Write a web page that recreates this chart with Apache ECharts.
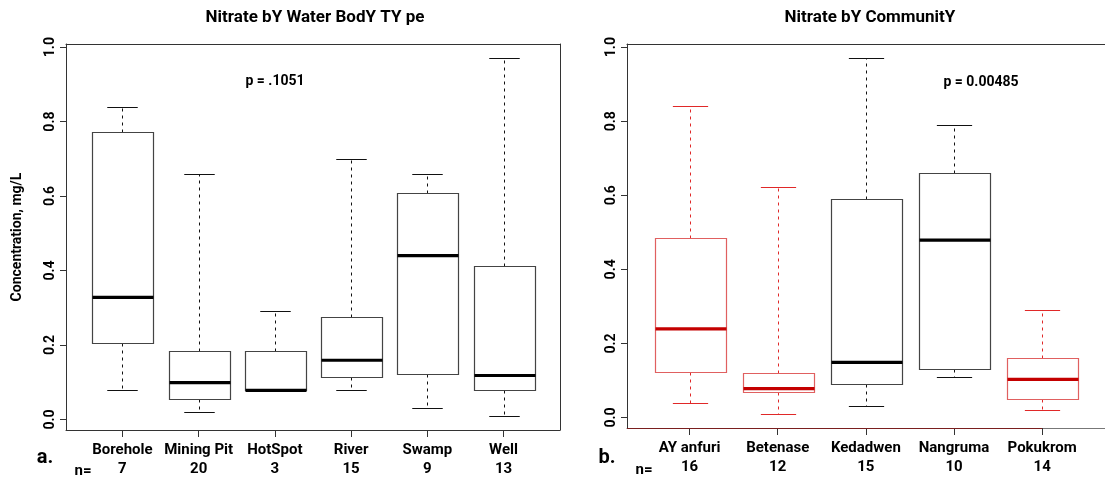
<!DOCTYPE html>
<html>
<head>
<meta charset="utf-8">
<script src="https://cdn.jsdelivr.net/npm/echarts@6/dist/echarts.min.js"></script>
<style>
html,body{margin:0;padding:0;background:#fff;}
#chart{width:1105px;height:478px;}
</style>
</head>
<body>
<div id="chart"></div>
<script>
// ---- Data ----
const waterTypes = ['Borehole', 'Mining Pit', 'HotSpot', 'River', 'Swamp', 'Well'];
const waterN     = [7, 20, 3, 15, 9, 13];
const waterLow   = [0.080, 0.020, 0.078, 0.080, 0.030, 0.009];
const waterQ1    = [0.205, 0.055, 0.078, 0.115, 0.121, 0.080];
const waterMed   = [0.328, 0.099, 0.078, 0.159, 0.440, 0.118];
const waterQ3    = [0.771, 0.185, 0.185, 0.274, 0.609, 0.411];
const waterHigh  = [0.840, 0.659, 0.290, 0.700, 0.659, 0.972];

const communities = ['AY anfuri', 'Betenase', 'Kedadwen', 'Nangruma', 'Pokukrom'];
const commN     = [16, 12, 15, 10, 14];
const commLow   = [0.040, 0.010, 0.030, 0.110, 0.020];
const commQ1    = [0.124, 0.070, 0.090, 0.130, 0.050];
const commMed   = [0.239, 0.078, 0.149, 0.479, 0.103];
const commQ3    = [0.484, 0.120, 0.590, 0.660, 0.160];
const commHigh  = [0.840, 0.621, 0.970, 0.790, 0.290];
const commRed   = [1, 1, 0, 0, 1];

const yTicks = [0, 0.2, 0.4, 0.6, 0.8, 1.0];
const titles = ['Nitrate bY Water BodY TY pe', 'Nitrate bY CommunitY'];
const pValues = ['p = .1051', 'p = 0.00485'];

// ---- Styling ----
const FONT = 'Roboto, "Liberation Sans", sans-serif';
const AX = '#333';
const palettes = {
  0: {box: '#444444', whisker: '#111111', median: '#000000'},
  1: {box: '#e06060', whisker: '#e02828', median: '#c40000'}
};

function renderBox(params, api) {
  const x = api.value(0);
  const pal = palettes[api.value(6)];
  const pLow = api.coord([x, api.value(1)]);
  const pQ1 = api.coord([x, api.value(2)]);
  const pMed = api.coord([x, api.value(3)]);
  const pQ3 = api.coord([x, api.value(4)]);
  const pHigh = api.coord([x, api.value(5)]);
  const halfW = api.size([0.8, 0])[0] / 2;
  const capHalf = api.size([0.4, 0])[0] / 2;
  const cx = Math.round(pMed[0]) + 0.5;
  const r = v => Math.round(v) + 0.5;
  const children = [];
  if (pHigh[1] < pQ3[1] - 0.5) {
    children.push({type: 'line', shape: {x1: cx, y1: r(pQ3[1]), x2: cx, y2: r(pHigh[1])},
      style: {stroke: pal.whisker, lineWidth: 1, lineDash: [3, 4]}});
    children.push({type: 'line', shape: {x1: cx - capHalf, y1: r(pHigh[1]), x2: cx + capHalf, y2: r(pHigh[1])},
      style: {stroke: pal.whisker, lineWidth: 1}});
  }
  if (pLow[1] > pQ1[1] + 0.5) {
    children.push({type: 'line', shape: {x1: cx, y1: r(pQ1[1]), x2: cx, y2: r(pLow[1])},
      style: {stroke: pal.whisker, lineWidth: 1, lineDash: [3, 4]}});
    children.push({type: 'line', shape: {x1: cx - capHalf, y1: r(pLow[1]), x2: cx + capHalf, y2: r(pLow[1])},
      style: {stroke: pal.whisker, lineWidth: 1}});
  }
  const top = r(pQ3[1]), bot = r(pQ1[1]);
  children.push({type: 'rect', shape: {x: r(cx - halfW), y: top, width: Math.round(2 * halfW), height: bot - top},
    style: {fill: '#ffffff', stroke: pal.box, lineWidth: 1.2}});
  children.push({type: 'line', shape: {x1: r(cx - halfW), y1: pMed[1], x2: r(cx - halfW) + Math.round(2 * halfW), y2: pMed[1]},
    style: {stroke: pal.median, lineWidth: 3.2}});
  return {type: 'group', children: children};
}

const waterData = waterTypes.map((_, i) => [i + 1, waterLow[i], waterQ1[i], waterMed[i], waterQ3[i], waterHigh[i], 0]);
const commData = communities.map((_, i) => [i + 1, commLow[i], commQ1[i], commMed[i], commQ3[i], commHigh[i], commRed[i]]);

const yMin = -0.0284, yMax = 1.0084;

function yAxisLeft(gridIndex, withName) {
  const ax = {
    gridIndex: gridIndex, type: 'value', min: yMin, max: yMax, position: 'left',
    axisLine: {show: true, onZero: false, lineStyle: {color: AX, width: 1}},
    axisTick: {show: true, customValues: yTicks, length: 6, lineStyle: {color: AX}},
    axisLabel: {show: true, customValues: yTicks, rotate: 90, margin: 9,
      formatter: v => v.toFixed(1), color: '#000', fontFamily: FONT, fontWeight: 'bold', fontSize: 14},
    splitLine: {show: false}
  };
  if (withName) {
    Object.assign(ax, {name: 'Concentration, mg/L', nameLocation: 'middle', nameGap: 42, nameRotate: 90,
      nameTextStyle: {color: '#000', fontFamily: FONT, fontWeight: 'bold', fontSize: 14}});
  }
  return ax;
}
function borderAxis(gridIndex, pos, min, max) {
  return {gridIndex: gridIndex, type: 'value', min: min, max: max, position: pos,
    axisLine: {show: true, onZero: false, lineStyle: {color: AX, width: 1}},
    axisTick: {show: false}, axisLabel: {show: false}, splitLine: {show: false}};
}
function xAxisBottom(gridIndex, min, max, names, ns, lineColor) {
  const vals = names.map((_, i) => i + 1);
  return {gridIndex: gridIndex, type: 'value', min: min, max: max, position: 'bottom',
    axisLine: {show: true, onZero: false, lineStyle: {color: lineColor, width: 1}},
    axisTick: {show: true, customValues: vals, length: 7, lineStyle: {color: AX}},
    axisLabel: {show: true, customValues: vals, margin: 11,
      formatter: v => '{c|' + names[v - 1] + '}\n{n|' + ns[v - 1] + '}',
      rich: {
        c: {fontFamily: FONT, fontWeight: 'bold', fontSize: 15, color: '#000', lineHeight: 19},
        n: {fontFamily: FONT, fontWeight: 'bold', fontSize: 15, color: '#000', lineHeight: 19}
      }},
    splitLine: {show: false}};
}

function txt(text, x, y, size) {
  return {type: 'text', style: {text: text, x: x, y: y, align: 'center', verticalAlign: 'middle',
    fontFamily: FONT, fontWeight: 'bold', fontSize: size, fill: '#000'}};
}

const option = {
  animation: false,
  backgroundColor: '#ffffff',
  grid: [
    {left: 66, right: 545, top: 44, bottom: 48},
    {left: 627, right: -15, top: 44, bottom: 50}
  ],
  xAxis: [
    xAxisBottom(0, 0.26, 6.74, waterTypes, waterN, AX),
    borderAxis(0, 'top', 0.26, 6.74),
    xAxisBottom(1, 0.29, 5.713, communities, commN, '#777'),
    borderAxis(1, 'top', 0.29, 5.713)
  ],
  yAxis: [
    yAxisLeft(0, true),
    borderAxis(0, 'right', yMin, yMax),
    yAxisLeft(1, false)
  ],
  graphic: [
    txt(titles[0], 315, 18, 17),
    txt(titles[1], 870, 18, 17),
    txt(pValues[0], 275, 81, 14),
    txt(pValues[1], 981, 82, 14),
    txt('a.', 45, 458, 20),
    txt('b.', 607, 458, 20),
    txt('n=', 83, 471, 15),
    txt('n=', 644, 470, 15)
  ],
  series: [
    {type: 'custom', xAxisIndex: 0, yAxisIndex: 0, renderItem: renderBox, data: waterData,
      encode: {x: 0, y: [1, 2, 3, 4, 5]}, clip: false},
    {type: 'custom', xAxisIndex: 2, yAxisIndex: 2, renderItem: renderBox, data: commData,
      encode: {x: 0, y: [1, 2, 3, 4, 5]}, clip: false,
      markLine: {silent: true, symbol: 'none', label: {show: false},
        lineStyle: {color: '#7a1f1f', width: 1, type: 'solid'},
        data: [[{coord: [0.29, yMin]}, {coord: [5, yMin]}]]}}
  ]
};
const chart = echarts.init(document.getElementById('chart'), null, {renderer: 'canvas'});
chart.setOption(option);
</script>
</body>
</html>
